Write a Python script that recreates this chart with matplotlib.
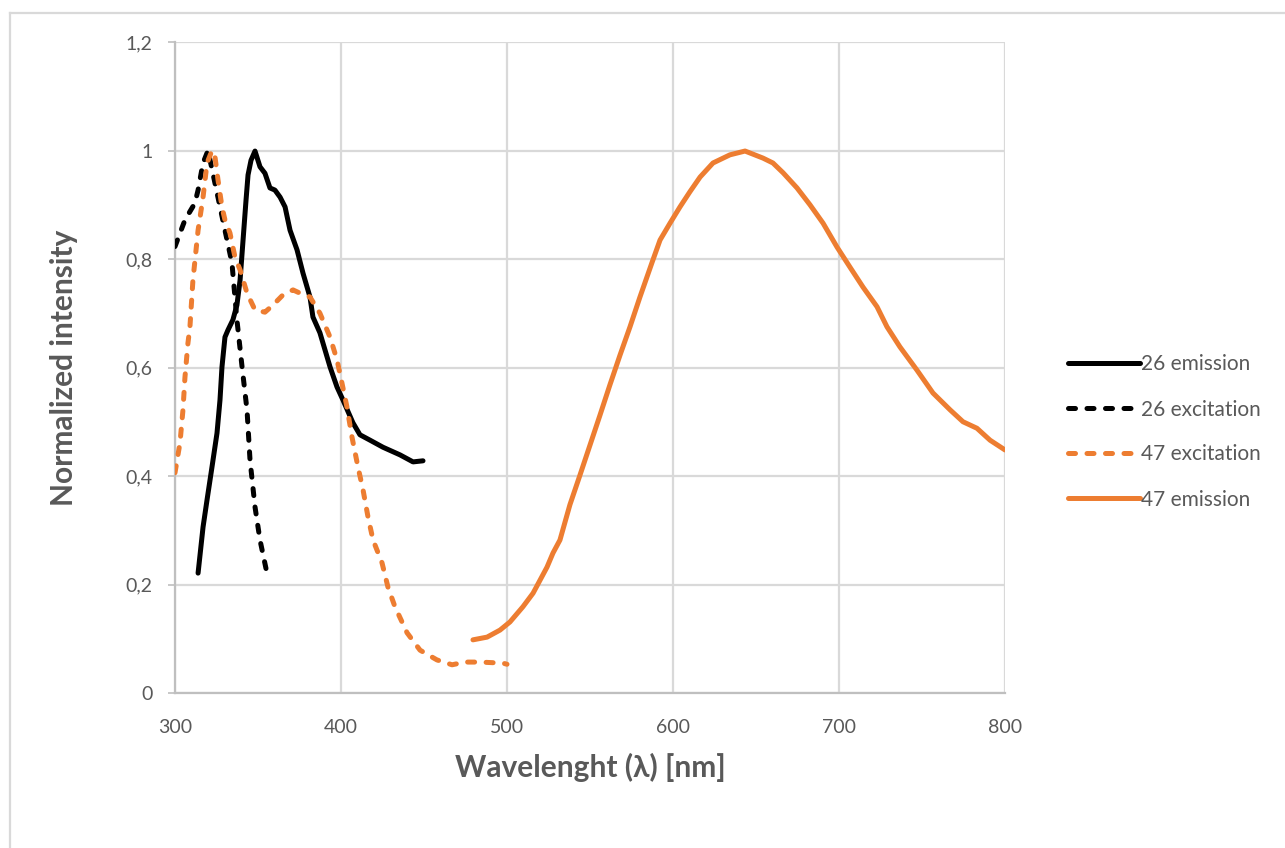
import matplotlib
matplotlib.use("Agg")
import matplotlib.pyplot as plt
from matplotlib.lines import Line2D
from matplotlib.ticker import FuncFormatter

plt.rcParams['font.family'] = ['Lato', 'DejaVu Sans']

# Spectra (wavelength in nm, normalized intensity)
em26_x = [313.9, 316.9, 319.3, 322.3, 325.3, 327.1, 328.3, 330.1, 331.9, 334.9,
          337.3, 339.2, 341.0, 342.8, 344.0, 345.8, 348.2, 351.2, 354.2, 357.2,
          360.2, 363.3, 366.3, 369.3, 373.5, 377.1, 381.3, 383.1, 387.3, 393.4,
          397.6, 401.2, 407.2, 411.4, 417.5, 425.3, 435.5, 443.4, 449.4]
em26_y = [0.221, 0.306, 0.356, 0.417, 0.479, 0.540, 0.601, 0.656, 0.669, 0.688,
          0.715, 0.761, 0.835, 0.909, 0.955, 0.982, 0.999, 0.970, 0.958, 0.931,
          0.927, 0.914, 0.896, 0.853, 0.817, 0.774, 0.730, 0.693, 0.664, 0.601,
          0.564, 0.540, 0.498, 0.476, 0.466, 0.453, 0.439, 0.426, 0.428]

ex26_x = [300.0, 306.0, 312.0, 313.9, 316.9, 319.9, 330.1, 334.3, 336.1, 337.3,
          340.4, 343.4, 345.2, 348.2, 351.2, 355.4]
ex26_y = [0.823, 0.872, 0.903, 0.927, 0.977, 1.000, 0.853, 0.793, 0.730, 0.688,
          0.601, 0.521, 0.429, 0.343, 0.282, 0.221]

ex47_x = [300.0, 303.0, 304.8, 306.0, 307.8, 309.0, 310.8, 313.9, 316.9, 319.3,
          322.3, 324.1, 325.9, 328.3, 330.1, 333.1, 336.1, 339.2, 343.4, 348.2,
          354.2, 359.0, 365.1, 371.1, 375.3, 381.3, 387.3, 393.4, 397.6, 400.6,
          403.6, 406.6, 410.2, 413.3, 416.3, 419.3, 424.7, 428.3, 432.5, 439.8,
          447.6, 457.8, 466.9, 474.7, 483.7, 497.6, 500.0]
ex47_y = [0.406, 0.461, 0.522, 0.582, 0.645, 0.675, 0.761, 0.853, 0.914, 0.977,
          1.000, 0.988, 0.946, 0.896, 0.872, 0.848, 0.804, 0.780, 0.737, 0.706,
          0.702, 0.715, 0.734, 0.743, 0.737, 0.730, 0.700, 0.656, 0.614, 0.571,
          0.527, 0.472, 0.417, 0.374, 0.324, 0.282, 0.240, 0.195, 0.159, 0.111,
          0.079, 0.061, 0.052, 0.057, 0.057, 0.055, 0.053]

em47_x = [479.5, 488.0, 495.8, 501.8, 509.6, 515.7, 519.9, 524.1, 527.7, 531.9,
          537.9, 544.0, 550.0, 556.0, 562.0, 568.1, 574.1, 580.1, 587.3, 592.2,
          598.2, 604.2, 610.2, 616.3, 624.1, 634.3, 643.4, 654.2, 660.2, 666.3,
          674.7, 682.5, 690.4, 698.8, 706.6, 714.5, 722.9, 728.9, 736.7, 747.0,
          756.6, 766.9, 774.7, 783.1, 791.0, 800.0]
em47_y = [0.098, 0.103, 0.116, 0.131, 0.159, 0.184, 0.208, 0.232, 0.258, 0.282,
          0.347, 0.402, 0.457, 0.512, 0.568, 0.623, 0.675, 0.730, 0.793, 0.835,
          0.866, 0.896, 0.924, 0.951, 0.977, 0.992, 0.999, 0.986, 0.977, 0.959,
          0.931, 0.900, 0.866, 0.822, 0.785, 0.748, 0.712, 0.675, 0.638, 0.595,
          0.553, 0.522, 0.500, 0.488, 0.466, 0.448]

x_ticks = [300, 400, 500, 600, 700, 800]
y_ticks = [0, 0.2, 0.4, 0.6, 0.8, 1.0, 1.2]

BLACK = '#000000'
ORANGE = '#ED7D31'
GRID = '#D9D9D9'
AXIS = '#BFBFBF'
TEXT = '#595959'

W, H = 1285, 848
fig = plt.figure(figsize=(W / 100, H / 100), dpi=100)
ax = fig.add_axes([175 / W, 1 - 693 / H, (1005 - 175) / W, (693 - 42) / H])

lw = 3.6
dash = (0, (1.4, 2.3))   # in units of line width, round caps
ax.plot(em26_x, em26_y, color=BLACK, lw=lw, solid_capstyle='round',
        solid_joinstyle='round', label='26 emission', zorder=3)
ax.plot(ex26_x, ex26_y, color=BLACK, lw=lw, ls=dash, dash_capstyle='round',
        dash_joinstyle='round', label='26 excitation', zorder=3)
ax.plot(ex47_x, ex47_y, color=ORANGE, lw=lw, ls=dash, dash_capstyle='round',
        dash_joinstyle='round', label='47 excitation', zorder=3)
ax.plot(em47_x, em47_y, color=ORANGE, lw=lw, solid_capstyle='round',
        solid_joinstyle='round', label='47 emission', zorder=3)

ax.set_xlim(300, 800)
ax.set_ylim(0, 1.2)
ax.set_xticks(x_ticks)
ax.set_yticks(y_ticks)
ax.yaxis.set_major_formatter(FuncFormatter(lambda v, p: f"{v:g}".replace('.', ',')))
ax.grid(True, color=GRID, lw=1.6, zorder=0)
ax.set_axisbelow(True)

for s in ('top', 'right'):
    ax.spines[s].set_visible(False)
for s in ('left', 'bottom'):
    ax.spines[s].set_color(AXIS)
    ax.spines[s].set_linewidth(1.6)

ax.tick_params(axis='y', length=5, width=1.2, color=AXIS, pad=11,
               labelsize=14, labelcolor=TEXT)
ax.tick_params(axis='x', length=0, pad=19, labelsize=14, labelcolor=TEXT)

ax.set_xlabel('Wavelenght (λ) [nm]', fontsize=21.5, fontweight='bold',
              color=TEXT, labelpad=12)
ax.set_ylabel('Normalized intensity', fontsize=21.5, fontweight='bold',
              color=TEXT, labelpad=34)

fig.legend(loc='center left', bbox_to_anchor=(1060 / W, 1 - 432 / H),
           frameon=False, fontsize=15, handlelength=3.45, handletextpad=0.05,
           labelspacing=1.2, labelcolor=TEXT, borderaxespad=0)

# Outer chart frame
fig.add_artist(Line2D([10 / W, 1.0], [1 - 13 / H, 1 - 13 / H],
                      transform=fig.transFigure, color=GRID, lw=1.6))
fig.add_artist(Line2D([10 / W, 10 / W], [1 - 13 / H, 0.0],
                      transform=fig.transFigure, color=GRID, lw=1.6))

fig.savefig('out.png', dpi=100, facecolor='white')
